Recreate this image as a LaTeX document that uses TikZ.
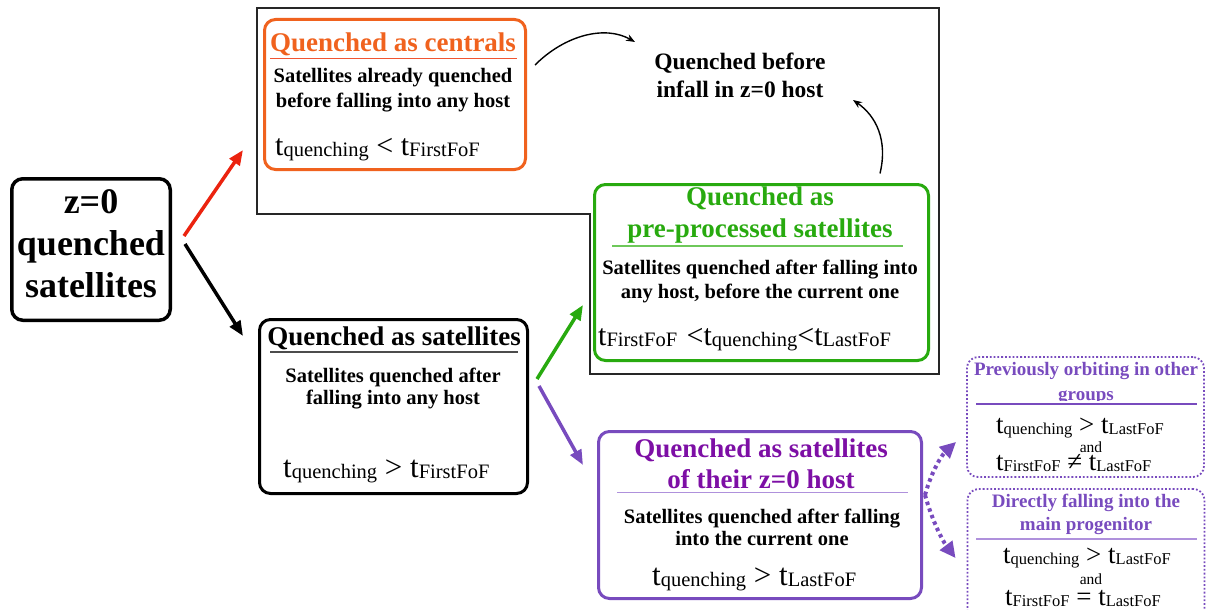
\documentclass[tikz,border=0pt]{standalone}
\usepackage{fontspec}
\setmainfont{Liberation Serif}
\usetikzlibrary{arrows.meta,calc}
\definecolor{corange}{RGB}{240,98,30}
\definecolor{corangel}{RGB}{240,85,50}
\definecolor{cred}{RGB}{235,35,15}
\definecolor{cgreen}{RGB}{40,170,15}
\definecolor{cgreenl}{RGB}{110,200,90}
\definecolor{cpurple}{RGB}{125,15,165}
\definecolor{cviolet}{RGB}{120,75,190}
\definecolor{cviolett}{RGB}{175,145,220}
\newcommand{\tv}[2]{t{\fontsize{#1pt}{#1pt}\selectfont\raisebox{-1.5pt}{#2}}}
\begin{document}
\begin{tikzpicture}[x=1pt,y=-1pt,
  box/.style={draw, rounded corners=11pt, line width=3pt, inner sep=0pt},
  dbox/.style={draw=cviolet, dotted, rounded corners=11pt, line width=1.8pt, inner sep=0pt},
  txt/.style={inner sep=0pt, anchor=base},
  tbig/.style={txt, font=\fontsize{36pt}{36pt}\selectfont\bfseries},
  ttitle/.style={txt, font=\fontsize{27pt}{27pt}\selectfont\bfseries},
  tbody/.style={txt, font=\fontsize{20.5pt}{20.5pt}\selectfont\bfseries},
  tmid/.style={txt, font=\fontsize{23.5pt}{23.5pt}\selectfont\bfseries},
  tsmall/.style={txt, font=\fontsize{19pt}{19pt}\selectfont\bfseries, text=cviolet},
  tform/.style={inner sep=0pt, anchor=base west, font=\fontsize{30pt}{30pt}\selectfont},
  tforms/.style={inner sep=0pt, anchor=base west, font=\fontsize{27pt}{27pt}\selectfont},
  tand/.style={txt, font=\fontsize{15.5pt}{15.5pt}\selectfont},
  arr/.style={line width=3.5pt, -{Triangle[length=15pt,width=12pt]}},
  darr/.style={cviolet, line width=4pt, dash pattern=on 3.5pt off 3.5pt, -{Triangle[length=16pt,width=15pt]}},
  carr/.style={line width=1.4pt, -{Stealth[length=9pt,width=7pt]}}
]
\useasboundingbox (0,0) rectangle (1211,610);

% big frame
\draw[black!85, line width=1.3pt] (257,8) -- (939,8) -- (939,374) -- (590,374) -- (590,214) -- (257,214) -- cycle;

% boxes
\node[box, line width=3.5pt, minimum width=158.5pt, minimum height=141.5pt] (z0) at (91,249.5) {};
\node[box, draw=corange, minimum width=261pt, minimum height=150pt] (cent) at (395,94.5) {};
\node[box, draw=cgreen, minimum width=334pt, minimum height=176pt] (pre) at (761.5,272.5) {};
\node[box, minimum width=268pt, minimum height=174pt] (sat) at (393.5,406.5) {};
\node[box, draw=cviolet, minimum width=323pt, minimum height=167pt] (host) at (760,515) {};
\node[dbox, minimum width=237pt, minimum height=120pt] (prev) at (1085.5,417) {};
\node[dbox, minimum width=237pt, minimum height=132pt] (dir) at (1086,555) {};

% z=0 box text
\node[tbig] (z0a) at (91,213) {z=0};
\node[tbig] (z0b) at (91,255) {quenched};
\node[tbig] (z0c) at (91,297) {satellites};

% centrals
\node[ttitle, text=corange] (centt) at (393,52) {Quenched as centrals};
\draw[corangel, line width=1.2pt] (270,58.5) -- (517,58.5);
\node[tbody] (centb1) at (393,83) {Satellites already quenched};
\node[tbody] (centb2) at (393,107) {before falling into any host};
\node[tform] (centf) at (275,155) {\tv{20.5}{quenching} < \tv{20.5}{FirstFoF}};

% quenched before infall
\node[tmid] (qb1) at (740,70) {Quenched before};
\node[tmid] (qb2) at (740,98) {infall in z=0 host};
\coordinate (c1) at (635,42);
\coordinate (c2) at (853,100);
\draw[carr] ($(cent.north east)+(8,47)$) .. controls (565,35) and (605,25) .. (c1);
\draw[carr] ($(pre.north)+(118.5,-9.5)$) .. controls (888,140) and (876,116) .. (c2);

% pre-processed
\node[ttitle, text=cgreen] (pret1) at (760,205) {Quenched as};
\node[ttitle, text=cgreen] (pret2) at (760,237) {pre-processed satellites};
\draw[cgreenl, line width=1.2pt] (612,246) -- (903,246);
\node[tbody] (preb1) at (760,274) {Satellites quenched after falling into};
\node[tbody] (preb2) at (760,298) {any host, before the current one};
\node[tform] (pref) at (598,345) {\tv{20.5}{FirstFoF}\hspace{2pt} <\tv{20.5}{quenching}<\tv{20.5}{LastFoF}};

% satellites
\node[ttitle] (satt) at (394,345) {Quenched as satellites};
\draw[black!70, line width=1.2pt] (270,352) -- (518,352);
\node[tbody] (satb1) at (393,382) {Satellites quenched after};
\node[tbody] (satb2) at (393,404) {falling into any host};
\node[tform, font=\fontsize{31pt}{31pt}\selectfont] (satf) at (283,477) {\tv{20.5}{quenching} > \tv{20.5}{FirstFoF}};

% z=0 host
\node[ttitle, text=cpurple] (hostt1) at (761,457) {Quenched as satellites};
\node[ttitle, text=cpurple] (hostt2) at (761,488) {of their z=0 host};
\draw[cviolett, line width=1.2pt] (617,492.5) -- (908,492.5);
\node[tbody] (hostb1) at (762,523) {Satellites quenched after falling};
\node[tbody] (hostb2) at (762,545) {into the current one};
\node[tform, font=\fontsize{31pt}{31pt}\selectfont] (hostf) at (652,585) {\tv{20.5}{quenching} > \tv{20.5}{LastFoF}};

% previously orbiting
\node[tsmall] (prevt1) at (1086,375) {Previously orbiting in other};
\begin{scope}
\clip (960,380) rectangle (1210,400);
\node[tsmall] (prevt2) at (1086,400) {groups};
\end{scope}
\draw[cviolet, line width=1.2pt] (976,404) -- (1197,404);
\node[tforms] (prevf1) at (996,433) {\tv{16.5}{quenching} > \tv{16.5}{LastFoF}};
\node[tand] (preva) at (1091,452) {and};
\node[tforms] (prevf2) at (996,470) {\tv{16.5}{FirstFoF} ≠ \tv{16.5}{LastFoF}};

% directly falling
\node[tsmall] (dirt1) at (1086,507) {Directly falling into the};
\node[tsmall] (dirt2) at (1086,530) {main progenitor};
\draw[cviolett, line width=1.2pt] (976,539) -- (1197,539);
\node[tforms] (dirf1) at (1003,563) {\tv{16.5}{quenching} > \tv{16.5}{LastFoF}};
\node[tand] (dira) at (1091,584) {and};
\node[tforms] (dirf2) at (1005,605) {\tv{16.5}{FirstFoF} = \tv{16.5}{LastFoF}};

% arrows
\draw[arr, cred] ($(z0.east)+(12,-13.5)$) -- ($(cent.south west)+(-20,-21)$);
\draw[arr] ($(z0.east)+(13,-5.5)$) -- ($(sat.north west)+(-15,18)$);
\draw[arr, cgreen] ($(sat.east)+(8,-27.5)$) -- ($(pre.west)+(-10,32.5)$);
\draw[arr, cviolet] ($(sat.east)+(10,-20.5)$) -- ($(host.north west)+(-14,35)$);
\draw[darr] ($(host.east)+(2,-20)$) .. controls (932,470) and (942,455) .. ($(prev.south west)+(-10,-36)$);
\draw[darr] ($(host.east)+(2,-20)$) .. controls (932,520) and (942,540) .. ($(dir.north west)+(-11,70)$);
\end{tikzpicture}
\end{document}
